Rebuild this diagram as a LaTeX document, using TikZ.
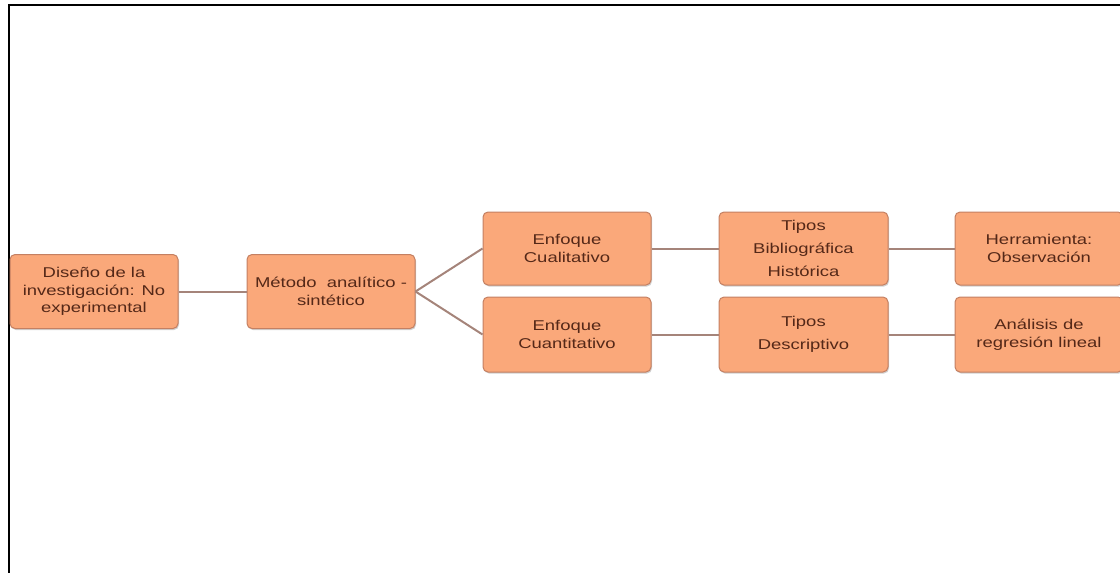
\documentclass[tikz,border=0pt]{standalone}
\usepackage{fontspec}
\setmainfont{Liberation Sans}[FakeStretch=1.3]
\usetikzlibrary{shadows}
\definecolor{boxfill}{RGB}{250,168,122}
\definecolor{boxline}{RGB}{196,128,98}
\definecolor{boxtext}{RGB}{84,40,24}
\definecolor{linkcol}{RGB}{165,132,122}
\begin{document}
\begin{tikzpicture}[x=1pt,y=-1pt,
  box/.style={draw=boxline, line width=1pt, fill=boxfill, rounded corners=5pt,
    minimum width=168pt, minimum height=74pt, inner sep=2pt, align=center,
    text=boxtext, font=\fontsize{14.2}{17.5}\selectfont,
    drop shadow={shadow xshift=1pt, shadow yshift=-1.5pt, opacity=0.3, fill=black!60}},
  tiposbox/.style={box, font=\fontsize{14.2}{23}\selectfont},
  link/.style={draw=linkcol, line width=2pt}]
\useasboundingbox (0,0) rectangle (1120,573);
% frame
\draw[line width=2pt] (8.5,600) -- (8.5,4.5) -- (1150,4.5);
% nodes
\node[box] (dis) at (94,291.5) {Diseño de la\\investigación: No\\experimental};
\node[box] (met) at (331,291.5) {Método\ \ analítico -\\sintético};
\node[box, minimum height=73pt] (cual) at (567,248.5) {Enfoque\\Cualitativo};
\node[box, minimum height=75pt] (cuan) at (567,334.5) {Enfoque\\Cuantitativo};
\node[tiposbox, minimum width=169pt, minimum height=73pt] (tip1) at (803.5,248.5) {Tipos\\Bibliográfica\\Histórica};
\node[tiposbox, minimum width=169pt, minimum height=75pt] (tip2) at (803.5,334.5) {Tipos\\Descriptivo};
\node[box, minimum height=73pt] (her) at (1039,248.5) {Herramienta:\\Observación};
\node[box, minimum height=75pt] (ana) at (1039,334.5) {Análisis de\\regresión lineal};
% connectors
\draw[link] (dis) -- (met);
\draw[link] (met.east) -- (cual.west);
\draw[link] (met.east) -- (cuan.west);
\draw[link] (cual) -- (tip1);
\draw[link] (tip1) -- (her);
\draw[link] (cuan) -- (tip2);
\draw[link] (tip2) -- (ana);
\end{tikzpicture}
\end{document}
